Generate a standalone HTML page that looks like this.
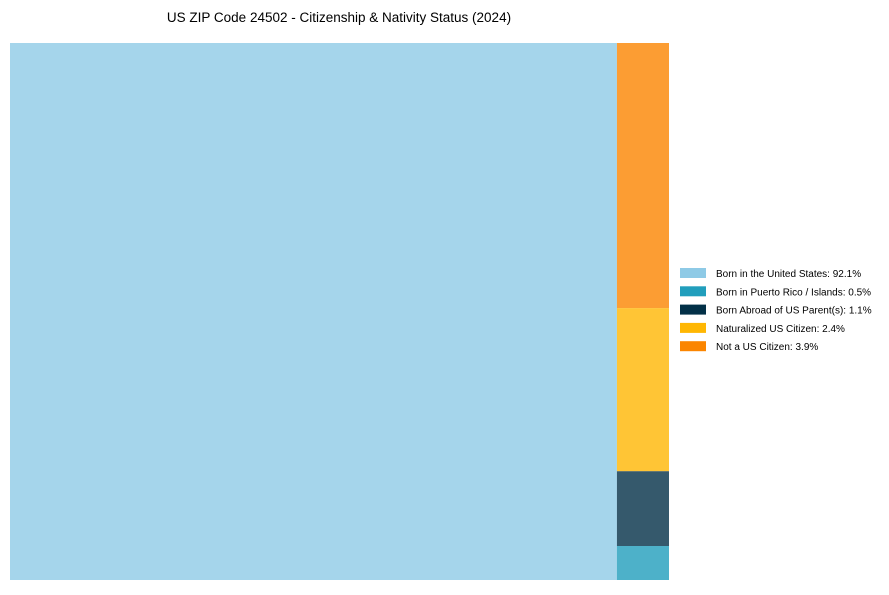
<!DOCTYPE html>
<html><head><meta charset="utf-8"><style>
body{margin:0;background:#fff;font-family:"Liberation Sans",Arial,sans-serif}
</style></head><body>
<svg width="889" height="590" xmlns="http://www.w3.org/2000/svg">
<text x="339" y="22" text-anchor="middle" font-size="13.5" fill="#000">US ZIP Code 24502 - Citizenship &amp; Nativity Status (2024)</text>
<g id="tiles"></g>
<g id="legend"></g>
</svg>
<script>
const categories = ["Born in the United States","Born in Puerto Rico / Islands","Born Abroad of US Parent(s)","Naturalized US Citizen","Not a US Citizen"];
const values = [92.1,0.5,1.1,2.4,3.9];
const colors = ["#8ecae6","#219ebc","#023047","#ffb703","#fb8500"];
const NS="http://www.w3.org/2000/svg";
const X0=10,Y0=43,W=659,H=537;
const total=values.reduce((a,b)=>a+b,0);
const tiles=document.getElementById('tiles');
const first=0;
const w0=W*values[first]/total;
function rect(x,y,w,h,c,i){
  const r=document.createElementNS(NS,'rect');
  r.setAttribute('x',x);r.setAttribute('y',y);r.setAttribute('width',w);r.setAttribute('height',h);
  r.setAttribute('fill',c);r.setAttribute('fill-opacity','0.8');
  
  
  tiles.appendChild(r);
}
rect(X0,Y0,w0,H,colors[first],first);
const rest=[1,2,3,4].sort((a,b)=>values[b]-values[a]);
const restTotal=rest.reduce((s,i)=>s+values[i],0);
let y=Y0;
rest.forEach(i=>{const h=H*values[i]/restTotal;rect(X0+w0,y,W-w0,h,colors[i],i);y+=h;});
const lg=document.getElementById('legend');
categories.forEach((c,i)=>{
  const yy=268+i*18.3;
  const s=document.createElementNS(NS,'rect');
  s.setAttribute('x',680);s.setAttribute('y',yy);s.setAttribute('width',26);s.setAttribute('height',10);s.setAttribute('fill',colors[i]);
  
  
  lg.appendChild(s);
  const t=document.createElementNS(NS,'text');
  t.setAttribute('x',716);t.setAttribute('y',yy+9);t.setAttribute('font-size','10');
  t.textContent=c+': '+values[i].toFixed(1)+'%';
  
  
  lg.appendChild(t);
});
</script>
</body></html>
